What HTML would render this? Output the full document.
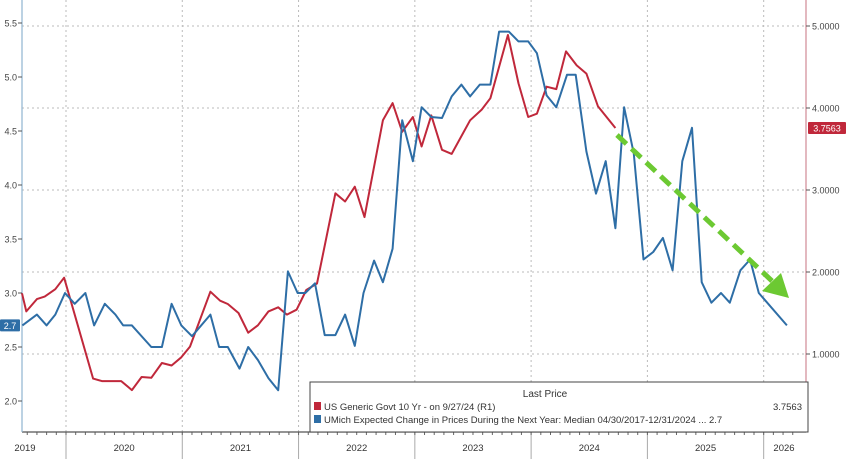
<!DOCTYPE html>
<html><head><meta charset="utf-8"><style>
html,body{margin:0;padding:0;background:#fff;}
svg{display:block;font-family:"Liberation Sans",sans-serif;}
</style></head><body>
<svg id="chart" width="848" height="459" viewBox="0 0 848 459" xmlns="http://www.w3.org/2000/svg">
<g id="grid"></g>
<g id="axes"></g>
<g id="series"></g>
<g>
<line x1="617" y1="135" x2="772" y2="281" stroke="#6cc932" stroke-width="5" stroke-dasharray="13,7"/>
<polygon points="789,298 762,291 781,273" fill="#6cc932"/>
</g>
<g>
<rect x="310" y="382" width="498" height="50" fill="#fff" stroke="#444" stroke-width="1"/>
<text x="545" y="397" font-size="10" fill="#333" text-anchor="middle">Last Price</text>
<rect x="314" y="402" width="7" height="8" fill="#c0283b"/>
<text x="324" y="410" font-size="9.5" fill="#333">US Generic Govt 10 Yr -  on 9/27/24  (R1)</text>
<text x="802" y="410" font-size="9.5" fill="#333" text-anchor="end">3.7563</text>
<rect x="314" y="415" width="7" height="8" fill="#2e6ea6"/>
<text x="324" y="423" font-size="9.5" fill="#333">UMich Expected Change in Prices During the Next Year: Median 04/30/2017-12/31/2024  ... 2.7</text>
</g>
</svg>
<script>
const redMonths=[-4.6,-4.1,-3.0,-2.2,-1.1,-0.2,2.8,3.7,5.7,6.8,7.8,8.8,9.9,10.9,11.9,12.8,14.9,15.9,16.7,17.8,18.8,19.8,20.9,21.9,22.8,23.8,24.8,25.9,27.8,28.8,29.8,30.8,32.7,33.7,34.7,35.8,36.7,37.7,38.8,39.8,41.7,42.9,43.8,45.6,46.7,47.7,48.6,49.6,50.6,51.6,52.7,53.7,54.9,56.7];
const redValues=[1.74,1.52,1.67,1.70,1.79,1.93,0.70,0.67,0.67,0.56,0.72,0.71,0.89,0.86,0.96,1.09,1.76,1.65,1.61,1.50,1.26,1.35,1.52,1.57,1.48,1.54,1.78,1.86,2.96,2.86,3.04,2.67,3.85,4.06,3.71,3.89,3.53,3.91,3.49,3.44,3.85,3.98,4.12,4.89,4.30,3.89,3.93,4.26,4.23,4.69,4.52,4.42,4.02,3.7563];
const blueMonths=[-4.5,-3.0,-2.0,-1.1,-0.1,0.9,2.0,2.9,4.0,5.1,5.9,6.8,8.8,9.9,10.9,11.9,13.0,14.9,15.8,16.7,17.9,18.8,19.8,20.9,21.9,22.9,23.9,24.7,25.7,26.7,27.8,28.8,29.8,30.7,31.8,32.7,33.7,34.7,35.8,36.7,37.7,38.8,39.8,40.8,41.7,42.7,43.8,44.7,45.7,46.7,47.7,48.6,49.6,50.6,51.7,52.6,53.7,54.7,55.7,56.7,57.6,58.6,59.6,60.6,61.6,62.6,63.6,64.6,65.6,66.6,67.6,68.5,69.6,70.6,71.5,74.4];
const blueValues=[2.7,2.8,2.7,2.8,3.0,2.9,3.0,2.7,2.9,2.8,2.7,2.7,2.5,2.5,2.9,2.7,2.6,2.8,2.5,2.5,2.3,2.5,2.38,2.21,2.1,3.2,3.0,3.0,3.09,2.61,2.61,2.8,2.51,3.0,3.3,3.1,3.41,4.6,4.22,4.72,4.63,4.62,4.82,4.93,4.82,4.93,4.93,5.42,5.42,5.33,5.33,5.22,4.83,4.72,5.02,5.02,4.31,3.92,4.22,3.6,4.72,4.29,3.31,3.38,3.51,3.21,4.22,4.53,3.1,2.91,3.0,2.91,3.21,3.31,3.0,2.7];
const leftTicks=[5.5,5.0,4.5,4.0,3.5,3.0,2.5,2.0];
const rightTicks=[5,4,3,2,1];
const yearLabels=["2019","2020","2021","2022","2023","2024","2025","2026"];
const yearStarts=[-12,0,12,24,36,48,60,72];

const NS="http://www.w3.org/2000/svg";
function xS(m){return 66+m*9.69;}
function yL(v){return 347-(v-2.5)*108;}
function yR(v){return 26+(5-v)*82;}
function mk(tag,attrs,parent,txt){const e=document.createElementNS(NS,tag);for(const k in attrs)e.setAttribute(k,attrs[k]);if(txt!==undefined)e.textContent=txt;parent.appendChild(e);return e;}
const grid=document.getElementById('grid'),axes=document.getElementById('axes'),ser=document.getElementById('series');
// horizontal grid (right axis ticks)
rightTicks.forEach(v=>{mk('line',{x1:22,x2:806,y1:yR(v),y2:yR(v),stroke:'#bbb','stroke-width':1,'stroke-dasharray':'2,3'},grid);});
// vertical grid & year separators
yearStarts.forEach((m,i)=>{
  const x=xS(m);
  if(i>0){
    mk('line',{x1:x,x2:x,y1:0,y2:432,stroke:'#bbb','stroke-width':1,'stroke-dasharray':'2,3'},grid);
    mk('line',{x1:x,x2:x,y1:432,y2:459,stroke:'#aaa','stroke-width':1},axes);
  }
  const lo=Math.max(0,x), hi=Math.min(806,xS(m+12));
  const t=mk('text',{x:(i===0?25:(i===7?784:(lo+hi)/2)),y:451,'font-size':9.5,fill:'#333','text-anchor':'middle'},axes,yearLabels[i]);
  
  
});
// month ticks
for(let m=-5;m<=75;m++){const x=xS(m);if(x>22&&x<806)mk('line',{x1:x,x2:x,y1:432,y2:435,stroke:'#666','stroke-width':1},axes);}
// axis lines
mk('line',{x1:22,x2:806,y1:432,y2:432,stroke:'#555','stroke-width':1.2},axes);
mk('line',{x1:22,x2:22,y1:0,y2:432,stroke:'#8fb3d0','stroke-width':1.2},axes);
mk('line',{x1:806,x2:806,y1:0,y2:432,stroke:'#d08a95','stroke-width':1.2},axes);
leftTicks.forEach(v=>{
  const y=yL(v);
  mk('line',{x1:18,x2:22,y1:y,y2:y,stroke:'#555'},axes);
  const t=mk('text',{x:17,y:y+3.5,'font-size':9,fill:'#444','text-anchor':'end'},axes,v.toFixed(1));
  
  
});
rightTicks.forEach(v=>{
  const y=yR(v);
  mk('line',{x1:806,x2:810,y1:y,y2:y,stroke:'#555'},axes);
  const t=mk('text',{x:812,y:y+3.5,'font-size':9,fill:'#444'},axes,v.toFixed(4));
  
  
});
// series
function line(ms,vs,ys,color,name){
  const pts=ms.map((m,i)=>Math.max(22,xS(m)).toFixed(1)+','+ys(vs[i]).toFixed(1)).join(' ');
  const p=mk('polyline',{points:pts,fill:'none',stroke:color,'stroke-width':2,'stroke-linejoin':'round'},ser);
  
  
}
line(redMonths,redValues,yR,'#c0283b','us-10y-yield-line');
line(blueMonths,blueValues,yL,'#2e6ea6','umich-inflation-expectations-line');
// last value tags
const lb=blueValues[0], yb=yL(lb);
const gb=mk('g',{},axes);


mk('rect',{x:0,y:yb-6,width:20,height:12,fill:'#2e6ea6',rx:1},gb);
mk('text',{x:10,y:yb+3.5,'font-size':9,fill:'#fff','text-anchor':'middle'},gb,'2.7');
const lr=redValues[redValues.length-1], yr=yR(lr);
const gr=mk('g',{},axes);


mk('rect',{x:808,y:yr-6,width:38,height:12,fill:'#c0283b',rx:1},gr);
mk('text',{x:827,y:yr+3.5,'font-size':9,fill:'#fff','text-anchor':'middle'},gr,lr.toFixed(4));
</script>
</body></html>
